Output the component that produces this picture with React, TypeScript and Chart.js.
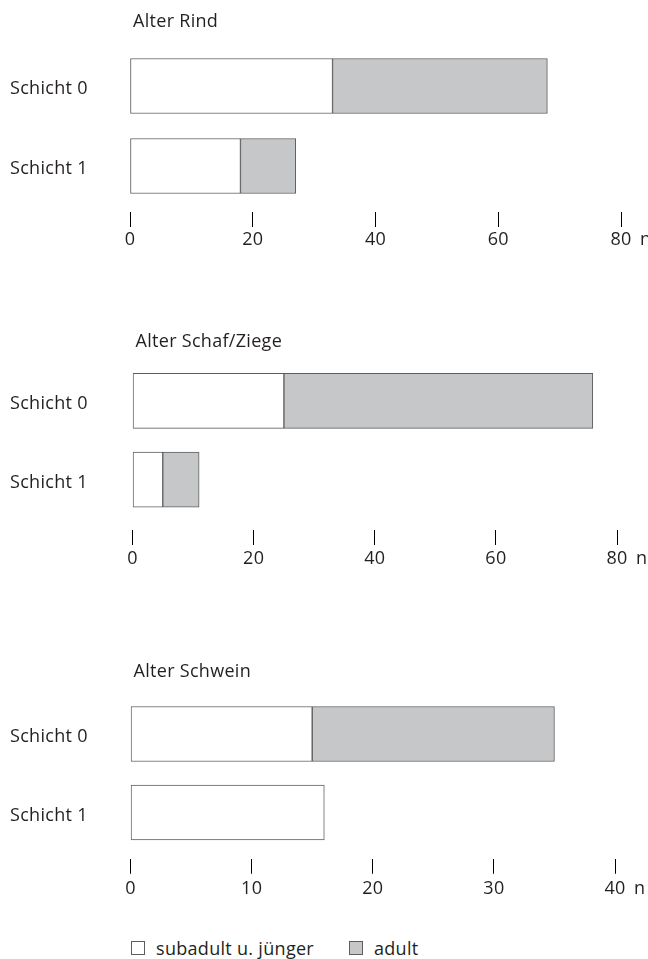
import React, { useEffect, useRef } from "react";
import { Chart, registerables } from "chart.js";

Chart.register(...registerables);

const categories = ["Schicht 0", "Schicht 1"];
const seriesNames = ["subadult u. jünger", "adult"];
const unitLabel = "n";

const rindTitle = "Alter Rind";
const rindSubadult = [33, 18];
const rindAdult = [35, 9];
const rindTicks = [0, 20, 40, 60, 80];

const schafTitle = "Alter Schaf/Ziege";
const schafSubadult = [25, 5];
const schafAdult = [51, 6];
const schafTicks = [0, 20, 40, 60, 80];

const schweinTitle = "Alter Schwein";
const schweinSubadult = [15, 16];
const schweinAdult = [20, 0];
const schweinTicks = [0, 10, 20, 30, 40];

const FONT = "'Open Sans', 'Noto Sans', sans-serif";
const TEXT = "#231f20";
const FILL_SUB = "#ffffff";
const FILL_ADULT = "#c6c7c8";
const BORDER = "#5e5e5e";
const FS = 18;
const LETTER = "0.3px";

type Layout = {
  top: number;
  height: number;
  left: number;
  right: number;
  titleCenter: number;
  areaTop: number;
  areaBottom: number;
  tickGap: number;
  labelCenter: number;
};

const layouts: Layout[] = [
  { top: 0, height: 285, left: 130, right: 621, titleCenter: 22, areaTop: 46, areaBottom: 206, tickGap: 6, labelCenter: 240 },
  { top: 300, height: 290, left: 132.5, right: 617, titleCenter: 342, areaTop: 361.5, areaBottom: 519, tickGap: 11, labelCenter: 559 },
  { top: 620, height: 300, left: 130.5, right: 615, titleCenter: 672, areaTop: 694.75, areaBottom: 851.75, tickGap: 7, labelCenter: 889 },
];

const panels = [
  { title: rindTitle, sub: rindSubadult, adult: rindAdult, ticks: rindTicks },
  { title: schafTitle, sub: schafSubadult, adult: schafAdult, ticks: schafTicks },
  { title: schweinTitle, sub: schweinSubadult, adult: schweinAdult, ticks: schweinTicks },
];

function buildConfig(p: typeof panels[number], L: Layout): any {
  const lh = FS * 1.2;
  const titleCenter = L.titleCenter - L.top;
  const areaTop = L.areaTop - L.top;
  const areaBottom = L.areaBottom - L.top;
  const xHeight = L.height - areaBottom;
  const tickLen = L.tickGap + 15;
  const labelPad = L.labelCenter - L.areaBottom - tickLen - lh / 2;

  const textPlugin = {
    id: "panelText",
    beforeDraw(chart: any) {
      (chart.ctx as any).letterSpacing = LETTER;
    },
    afterDraw(chart: any) {
      const xs = chart.scales.x;
      const last = xs.ticks.length - 1;
      const px = xs.getPixelForTick(last);
      const ctx = chart.ctx;
      ctx.save();
      (ctx as any).letterSpacing = LETTER;
      ctx.font = `${FS}px ${FONT}`;
      ctx.fillStyle = TEXT;
      ctx.textAlign = "left";
      ctx.textBaseline = "middle";
      ctx.fillText(unitLabel, px + 19, xs.top + tickLen + labelPad + lh / 2);
      ctx.fillText(p.title, chart.chartArea.left + 3, titleCenter);
      ctx.restore();
    },
  };

  return {
    type: "bar",
    data: {
      labels: categories,
      datasets: [
        {
          label: seriesNames[0],
          data: p.sub,
          backgroundColor: FILL_SUB,
          borderColor: BORDER,
          borderWidth: 1,
          borderSkipped: false,
          barThickness: 55,
        },
        {
          label: seriesNames[1],
          data: p.adult,
          backgroundColor: FILL_ADULT,
          borderColor: BORDER,
          borderWidth: 1,
          borderSkipped: false,
          barThickness: 55,
        },
      ],
    },
    options: {
      indexAxis: "y",
      animation: false,
      responsive: false,
      maintainAspectRatio: false,
      events: [],
      layout: { padding: { left: 10, right: 648 - L.right, top: areaTop, bottom: 0 } },
      plugins: {
        legend: { display: false },
        tooltip: { enabled: false },
        title: { display: false },
      },
      scales: {
        x: {
          type: "linear",
          stacked: true,
          min: p.ticks[0],
          max: p.ticks[p.ticks.length - 1],
          afterFit(scale: any) {
            scale.height = xHeight;
          },
          afterBuildTicks(scale: any) {
            scale.ticks = p.ticks.map((v) => ({ value: v }));
          },
          border: { display: false },
          grid: {
            display: true,
            drawOnChartArea: false,
            drawTicks: true,
            tickLength: tickLen,
            tickColor: "#000000",
            tickWidth: 1,
            tickBorderDash: [15, L.tickGap],
            tickBorderDashOffset: 15,
          },
          ticks: {
            color: TEXT,
            font: { family: FONT, size: FS, lineHeight: 1.2 },
            padding: labelPad,
            maxRotation: 0,
            autoSkip: false,
          },
        },
        y: {
          type: "category",
          stacked: true,
          afterFit(scale: any) {
            scale.width = L.left - 10;
          },
          border: { display: false },
          grid: { display: false, drawTicks: false },
          ticks: {
            color: TEXT,
            crossAlign: "far",
            padding: 0,
            labelOffset: 3,
            font: { family: FONT, size: FS, lineHeight: 1.2 },
          },
        },
      },
    },
    plugins: [textPlugin],
  };
}

function Panel({ idx }: { idx: number }) {
  const ref = useRef<HTMLCanvasElement | null>(null);
  const L = layouts[idx];
  useEffect(() => {
    if (!ref.current) return;
    const chart = new Chart(ref.current, buildConfig(panels[idx], L));
    return () => chart.destroy();
  }, [idx]);
  return (
    <canvas
      ref={ref}
      width={648}
      height={L.height}
      style={{ position: "absolute", left: 0, top: L.top, width: 648, height: L.height }}
    />
  );
}

export default function App() {
  const legendColors = [FILL_SUB, FILL_ADULT];
  const legendX = [131, 349];
  return (
    <div style={{ position: "absolute", left: 0, top: 0, width: 648, height: 959, background: "#fff", overflow: "hidden" }}>
      <Panel idx={0} />
      <Panel idx={1} />
      <Panel idx={2} />
      {seriesNames.map((name, i) => (
        <div
          key={name}
          style={{
            position: "absolute",
            left: legendX[i],
            top: 936,
            height: 24,
            display: "flex",
            alignItems: "center",
            fontFamily: FONT,
            fontSize: FS,
            letterSpacing: LETTER,
            color: TEXT,
            whiteSpace: "nowrap",
          }}
        >
          <span
            style={{
              display: "inline-block",
              width: 14,
              height: 14,
              boxSizing: "border-box",
              border: `1px solid ${BORDER}`,
              background: legendColors[i],
              marginRight: 11,
            }}
          />
          <span>{name}</span>
        </div>
      ))}
    </div>
  );
}
